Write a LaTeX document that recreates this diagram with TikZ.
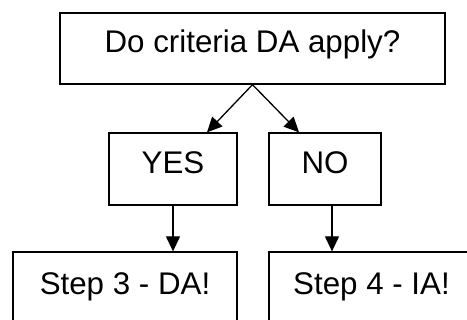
\documentclass[tikz,border=0pt]{standalone}
\usepackage{fontspec}
\setmainfont{Liberation Sans}
\usetikzlibrary{arrows.meta}
\begin{document}
\begin{tikzpicture}[x=1pt,y=-1pt,
  box/.style={draw=black, line width=1.3pt, fill=white, inner sep=0pt,
    font=\fontsize{31.3}{37}\selectfont, text height=22pt},
  arr/.style={line width=1.3pt, -{Triangle[length=15pt,width=14pt]}}]
  \useasboundingbox[fill=white] (0,0) rectangle (467,320);
  % question box
  \node[box, minimum width=385pt, minimum height=71pt, text depth=13pt]
    (q) at (252.5,48.5) {Do criteria DA apply?};
  % answers
  \node[box, minimum width=128pt, minimum height=72pt, text depth=13pt]
    (yes) at (173,169) {YES};
  \node[box, minimum width=112pt, minimum height=72pt, text depth=13pt]
    (no) at (325,169) {NO};
  % outcomes (run past the lower edge)
  \node[box, minimum width=224pt, minimum height=80pt, text depth=16pt]
    (s3) at (125,292) {Step 3 - DA!};
  \node[box, minimum width=205pt, minimum height=80pt, text depth=16pt]
    (s4) at (371.5,292) {Step 4 - IA!};
  % connectors
  \draw[arr] (q.south) -- ([xshift=34pt]yes.north);
  \draw[arr] (q.south) -- ([xshift=-26pt]no.north);
  \draw[arr] (yes.south) -- (yes.south |- s3.north);
  \draw[arr] ([xshift=7pt]no.south) -- ([xshift=7pt]no.south |- s4.north);
\end{tikzpicture}
\end{document}
